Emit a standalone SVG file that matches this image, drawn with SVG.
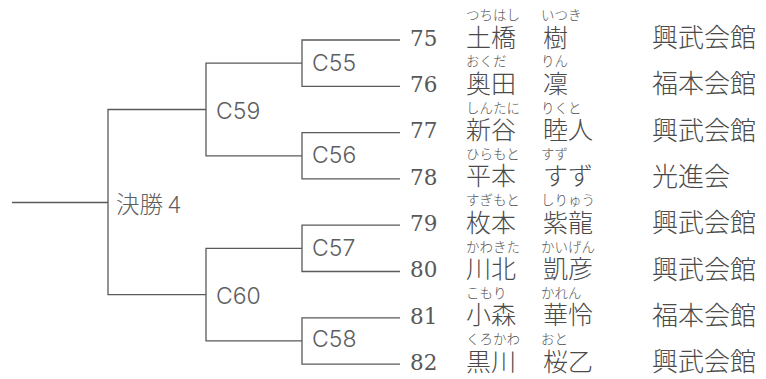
<svg xmlns="http://www.w3.org/2000/svg" width="766" height="379" viewBox="0 0 766 379">
<style>
.ln{fill:none;stroke:#5a5a5a;stroke-width:1.3}
.lb{font-family:Inter,"Noto Sans CJK JP",sans-serif;font-weight:300;font-size:23px;fill:#5e5e5e}
.lbj{font-family:"Noto Sans CJK JP",sans-serif;font-weight:300;font-size:23.5px;fill:#5e5e5e}
.no{font-family:"DejaVu Serif","Liberation Serif",serif;font-size:21.5px;fill:#585858}
.nm{font-family:"Noto Sans CJK JP",sans-serif;font-weight:300;font-size:25px;fill:#4a4a4a}
.cl{font-family:"Noto Sans CJK JP",sans-serif;font-weight:300;font-size:26px;fill:#4a4a4a}
.fu{font-family:"Noto Sans CJK JP",sans-serif;font-weight:300;font-size:13.5px;fill:#555}
</style>
<rect width="766" height="379" fill="#fff"/>
<g id="connectors">
<path class="ln" d="M12,202.5 H108"/>
<path class="ln" d="M206,109.5 H108 V294.6 H206"/>
<path class="ln" d="M302,63.2 H206 V155.8 H302"/>
<path class="ln" d="M302,248.4 H206 V340.9 H302"/>
<path class="ln" d="M400,40 H302 V86.3 H400"/>
<path class="ln" d="M400,132.6 H302 V178.9 H400"/>
<path class="ln" d="M400,225.2 H302 V271.5 H400"/>
<path class="ln" d="M400,317.8 H302 V364.1 H400"/>
</g>
<g id="final"><text class="lbj" x="116" y="213">決勝 4</text></g>
<g id="C59"><text class="lb" x="216" y="119.3">C59</text></g>
<g id="C60"><text class="lb" x="216" y="304">C60</text></g>
<g id="C55"><text class="lb" x="312" y="71">C55</text></g>
<g id="C56"><text class="lb" x="312" y="163.3">C56</text></g>
<g id="C57"><text class="lb" x="312" y="255.7">C57</text></g>
<g id="C58"><text class="lb" x="312" y="347.3">C58</text></g>
<g id="p75"><text class="fu" x="466" y="20">つちはし</text><text class="fu" x="541" y="20">いつき</text><text class="no" x="410" y="45.7">75</text><text class="nm" x="466" y="46.5">土橋</text><text class="nm" x="543" y="46.5">樹</text><text class="cl" x="652" y="47">興武会館</text></g>
<g id="p76"><text class="fu" x="466" y="66.3">おくだ</text><text class="fu" x="541" y="66.3">りん</text><text class="no" x="410" y="92">76</text><text class="nm" x="466" y="92.8">奥田</text><text class="nm" x="543" y="92.8">凜</text><text class="cl" x="652" y="93.3">福本会館</text></g>
<g id="p77"><text class="fu" x="466" y="112.6">しんたに</text><text class="fu" x="541" y="112.6">りくと</text><text class="no" x="410" y="138.3">77</text><text class="nm" x="466" y="139.1">新谷</text><text class="nm" x="543" y="139.1">睦人</text><text class="cl" x="652" y="139.6">興武会館</text></g>
<g id="p78"><text class="fu" x="466" y="158.9">ひらもと</text><text class="fu" x="541" y="158.9">すず</text><text class="no" x="410" y="184.6">78</text><text class="nm" x="466" y="185.4">平本</text><text class="nm" x="543" y="185.4">すず</text><text class="cl" x="652" y="185.9">光進会</text></g>
<g id="p79"><text class="fu" x="466" y="205.2">すぎもと</text><text class="fu" x="541" y="205.2">しりゅう</text><text class="no" x="410" y="230.9">79</text><text class="nm" x="466" y="231.7">枚本</text><text class="nm" x="543" y="231.7">紫龍</text><text class="cl" x="652" y="232.2">興武会館</text></g>
<g id="p80"><text class="fu" x="466" y="251.5">かわきた</text><text class="fu" x="541" y="251.5">かいげん</text><text class="no" x="410" y="277.2">80</text><text class="nm" x="466" y="278">川北</text><text class="nm" x="543" y="278">凱彦</text><text class="cl" x="652" y="278.5">興武会館</text></g>
<g id="p81"><text class="fu" x="466" y="297.8">こもり</text><text class="fu" x="541" y="297.8">かれん</text><text class="no" x="410" y="323.5">81</text><text class="nm" x="466" y="324.3">小森</text><text class="nm" x="543" y="324.3">華怜</text><text class="cl" x="652" y="324.8">福本会館</text></g>
<g id="p82"><text class="fu" x="466" y="344.1">くろかわ</text><text class="fu" x="541" y="344.1">おと</text><text class="no" x="410" y="369.8">82</text><text class="nm" x="466" y="370.6">黒川</text><text class="nm" x="543" y="370.6">桜乙</text><text class="cl" x="652" y="371.1">興武会館</text></g>
</svg>
